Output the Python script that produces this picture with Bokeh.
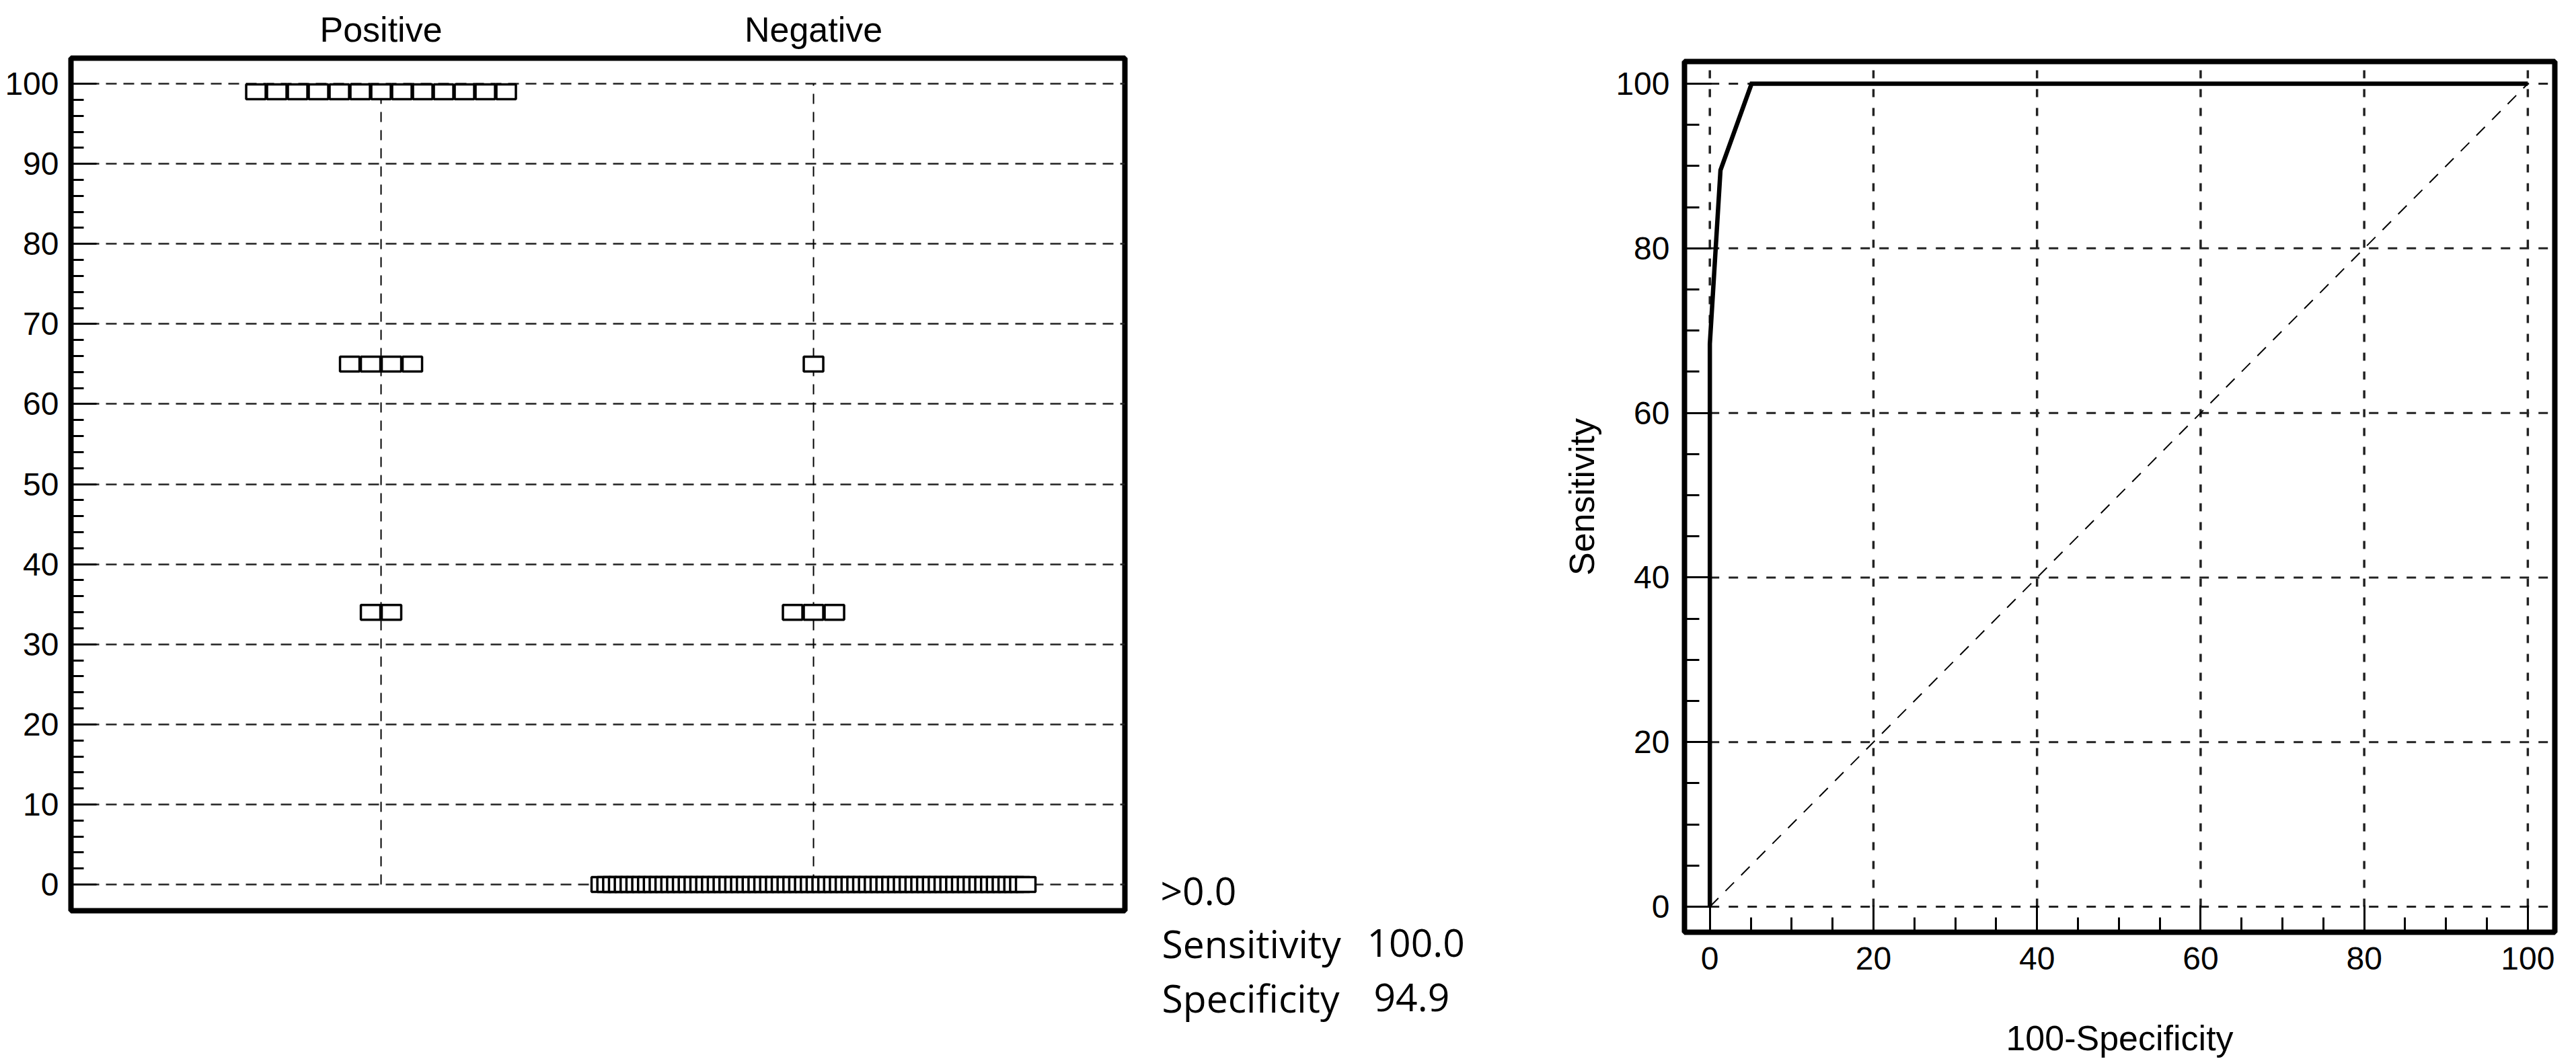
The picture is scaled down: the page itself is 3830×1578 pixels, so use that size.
from bokeh.plotting import figure
from bokeh.models import Range1d, SingleIntervalTicker, FixedTicker, Label
from bokeh.layouts import row
from bokeh.embed import file_html
from bokeh.resources import INLINE

# ---------------- data ----------------
groups = ["Positive", "Negative"]
pos_values = [99, 65, 34]
pos_counts = [13, 4, 2]
neg_values = [65, 34, 0]
neg_counts = [1, 3, 74]

criterion = ">0.0"
sensitivity = 100.0
specificity = 94.9

roc_fpr = [0, 0, 1.3, 5.1, 100]
roc_sens = [0, 68.4, 89.5, 100, 100]
ref_x = [0, 100]
ref_y = [0, 100]

dot_ticks = [0, 10, 20, 30, 40, 50, 60, 70, 80, 90, 100]
roc_ticks = [0, 20, 40, 60, 80, 100]

# ---------------- styles / geometry ----------------
TICK_FONT = "Liberation Sans"
TXT_FONT = "Open Sans"
PAGE = 8

B1 = dict(left=105, right=10, top=86, bottom=206)
FW1, FH1 = 1567, 1268
W1, H1 = B1["left"] + FW1 + B1["right"], B1["top"] + FH1 + B1["bottom"]
X1 = (0.283, 2.72)
Y1 = (-3.27, 103.2)
pxu1 = FW1 / (X1[1] - X1[0])

WT = 2250 - (PAGE + W1)
HT = H1

B2 = dict(left=262, right=16, top=91, bottom=190)
FW2, FH2 = 1294, 1295
W2, H2 = B2["left"] + FW2 + B2["right"], B2["top"] + FH2 + B2["bottom"]
X2 = (-3.1, 103.3)
Y2 = (-3.1, 102.7)


def no_align(f):
    if "frame_align" in f.properties():
        f.frame_align = False
    return f


# ---------------- left: dot plot ----------------
p1 = figure(width=W1, height=H1, x_range=Range1d(*X1), y_range=Range1d(*Y1),
            output_backend="svg", toolbar_location=None, x_axis_location="above",
            min_border_left=B1["left"], min_border_right=B1["right"],
            min_border_top=B1["top"], min_border_bottom=B1["bottom"])
no_align(p1)
p1.outline_line_color = "black"
p1.outline_line_width = 8
p1.background_fill_color = "white"
p1.border_fill_color = "white"
p1.xgrid.visible = False

cat_x = [i + 1 for i in range(len(groups))]

xa = p1.xaxis[0]
xa.ticker = FixedTicker(ticks=cat_x)
xa.major_label_overrides = {c: g for c, g in zip(cat_x, groups)}
xa.axis_line_color = None
xa.major_tick_line_color = None
xa.minor_tick_line_color = None
xa.major_label_text_font = TICK_FONT
xa.major_label_text_font_size = "52px"
xa.major_label_text_color = "black"
xa.major_label_standoff = 8

ya = p1.yaxis[0]
ya.ticker = SingleIntervalTicker(interval=10, num_minor_ticks=5)
ya.bounds = (dot_ticks[0], dot_ticks[-1])
ya.axis_line_color = None
ya.major_tick_in = 38
ya.major_tick_out = 0
ya.minor_tick_in = 19
ya.minor_tick_out = 0
ya.major_tick_line_width = 3
ya.minor_tick_line_width = 3
ya.major_tick_line_color = "black"
ya.minor_tick_line_color = "black"
ya.major_label_text_font = TICK_FONT
ya.major_label_text_font_size = "48px"
ya.major_label_text_color = "black"
ya.major_label_standoff = 18

p1.ygrid.ticker = SingleIntervalTicker(interval=10)
p1.ygrid.grid_line_color = "#222222"
p1.ygrid.grid_line_width = 2.5
p1.ygrid.grid_line_dash = "16 10"
p1.ygrid.grid_line_alpha = 1.0

p1.segment(x0=cat_x, y0=[dot_ticks[0]] * len(cat_x), x1=cat_x, y1=[dot_ticks[-1]] * len(cat_x),
           line_color="black", line_width=2, line_dash="15 12")

SQ_W, SQ_H, STEP, MAX_SPAN = 29, 22, 31, 631
xs, ys = [], []
for gi, (vals, cnts) in enumerate([(pos_values, pos_counts), (neg_values, neg_counts)]):
    cx = cat_x[gi]
    for v, n in zip(vals, cnts):
        step = STEP if n < 2 else min(STEP, MAX_SPAN / (n - 1))
        for k in range(n):
            xs.append(cx + (k - (n - 1) / 2) * step / pxu1)
            ys.append(v)
p1.rect(x=xs, y=ys, width=SQ_W, height=SQ_H, width_units="screen", height_units="screen",
        fill_color="white", line_color="black", line_width=3.5)

# ---------------- text panel (page-pixel coordinates) ----------------
x0t = PAGE + W1
pt = figure(width=WT, height=HT, x_range=Range1d(x0t, x0t + WT), y_range=Range1d(PAGE + HT, PAGE),
            output_backend="svg", toolbar_location=None,
            x_axis_location=None, y_axis_location=None, min_border=0)
no_align(pt)
pt.outline_line_color = None
pt.background_fill_color = "white"
pt.border_fill_color = "white"
pt.grid.visible = False
TXT = dict(text_font=TXT_FONT, text_font_size="57px", text_color="black", text_baseline="alphabetic")
pt.add_layout(Label(x=1733, y=1331, text=criterion, **TXT))
pt.add_layout(Label(x=1735, y=1410, text="Sensitivity", **TXT))
pt.add_layout(Label(x=2040, y=1410, text=f"{sensitivity:.1f}", **TXT))
pt.add_layout(Label(x=1735, y=1491, text="Specificity", **TXT))
pt.add_layout(Label(x=2050, y=1491, text=f"{specificity:.1f}", **TXT))

# ---------------- right: ROC curve ----------------
p2 = figure(width=W2, height=H2, x_range=Range1d(*X2), y_range=Range1d(*Y2),
            output_backend="svg", toolbar_location=None,
            min_border_left=B2["left"], min_border_right=B2["right"],
            min_border_top=B2["top"], min_border_bottom=B2["bottom"])
no_align(p2)
p2.outline_line_color = "black"
p2.outline_line_width = 8
p2.background_fill_color = "white"
p2.border_fill_color = "white"
p2.xgrid.visible = False
p2.ygrid.visible = False

for ax in (p2.xaxis[0], p2.yaxis[0]):
    ax.ticker = SingleIntervalTicker(interval=20, num_minor_ticks=4)
    ax.bounds = (roc_ticks[0], roc_ticks[-1])
    ax.axis_line_color = None
    ax.major_tick_in = 40
    ax.major_tick_out = 0
    ax.minor_tick_in = 22
    ax.minor_tick_out = 0
    ax.major_tick_line_width = 3
    ax.minor_tick_line_width = 3
    ax.major_tick_line_color = "black"
    ax.minor_tick_line_color = "black"
    ax.major_label_text_font = TICK_FONT
    ax.major_label_text_font_size = "48px"
    ax.major_label_text_color = "black"
    ax.axis_label_text_font = TICK_FONT
    ax.axis_label_text_font_size = "52px"
    ax.axis_label_text_font_style = "normal"
    ax.axis_label_text_color = "black"

p2.xaxis[0].axis_label = "100-Specificity"
p2.xaxis[0].major_label_standoff = 22
p2.xaxis[0].axis_label_standoff = 70
p2.yaxis[0].axis_label = "Sensitivity"
p2.yaxis[0].major_label_standoff = 22
p2.yaxis[0].axis_label_standoff = 18

n = len(roc_ticks)
p2.segment(x0=[roc_ticks[0]] * n, y0=roc_ticks, x1=[X2[1]] * n, y1=roc_ticks,
           line_color="#222222", line_width=3, line_dash="14 14")
p2.segment(x0=roc_ticks, y0=[roc_ticks[0]] * n, x1=roc_ticks, y1=[Y2[1]] * n,
           line_color="#222222", line_width=3.5, line_dash="12 16")

p2.line(ref_x, ref_y, line_color="black", line_width=2, line_dash="18 15")
p2.line(roc_fpr, roc_sens, line_color="black", line_width=6.5, line_join="miter")

layout = row(p1, pt, p2)
open("out.html", "w").write(file_html(layout, INLINE))
